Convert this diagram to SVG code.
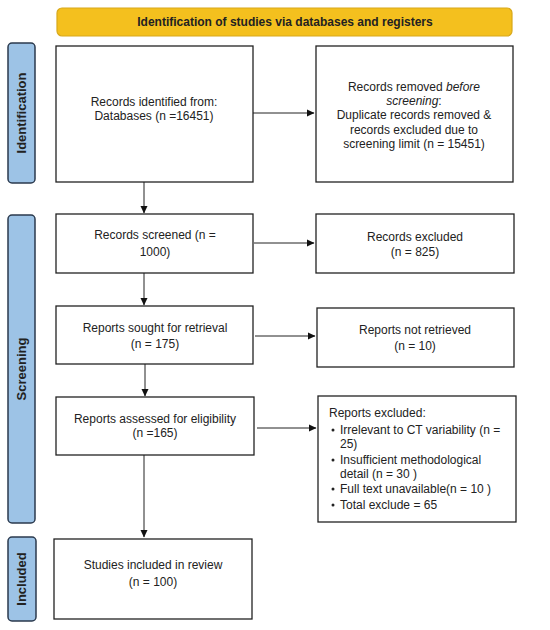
<svg xmlns="http://www.w3.org/2000/svg" width="550" height="630" viewBox="0 0 550 630">
<defs>
<marker id="ah" markerWidth="8" markerHeight="8" refX="7" refY="4" orient="auto" markerUnits="userSpaceOnUse">
<path d="M0,0.5 L7.5,4 L0,7.5 Z" fill="#111"/>
</marker>
<style>
.box{fill:#fff;stroke:#222;stroke-width:1.3}
.t{font-family:"Liberation Sans",Arial,sans-serif;font-size:12px;fill:#222;text-anchor:middle}
.tl{font-family:"Liberation Sans",Arial,sans-serif;font-size:12px;fill:#222}
.side{fill:#9dc3e6;stroke:#2b3a4e;stroke-width:1.5}
.st{font-family:"Liberation Sans",Arial,sans-serif;font-size:12px;font-weight:bold;fill:#222;text-anchor:middle}
.sl{font-family:"Liberation Sans",Arial,sans-serif;font-size:13px;font-weight:bold;fill:#222;text-anchor:middle}
.c{stroke:#222;stroke-width:1;fill:none;marker-end:url(#ah)}
</style>
</defs>
<rect width="550" height="630" fill="#fff"/>
<g id="header">
<rect x="57" y="8" width="455" height="28" rx="5" fill="#f4c01e" stroke="#d8a81a" stroke-width="1.2"/>
<text class="st" x="285" y="26">Identification of studies via databases and registers</text>
</g>
<g id="label-identification">
<rect class="side" x="8" y="43" width="27" height="140" rx="4"/>
<text class="sl" transform="translate(26,113) rotate(-90)">Identification</text>
</g>
<g id="label-screening">
<rect class="side" x="8" y="215" width="27" height="308" rx="4"/>
<text class="sl" transform="translate(26,369) rotate(-90)">Screening</text>
</g>
<g id="label-included">
<rect class="side" x="8" y="537" width="28" height="84" rx="4"/>
<text class="sl" transform="translate(26,579) rotate(-90)">Included</text>
</g>
<g id="n1">
<rect class="box" x="56" y="46" width="197" height="136"/>
<text class="t" x="154" y="106">Records identified from:</text>
<text class="t" x="154" y="120">Databases (n =16451)</text>
</g>
<g id="n2">
<rect class="box" x="316" y="46" width="197" height="136"/>
<text class="t" x="414" y="91">Records removed <tspan font-style="italic">before</tspan></text>
<text class="t" x="414" y="105"><tspan font-style="italic">screening</tspan>:</text>
<text class="t" x="414" y="119">Duplicate records removed &amp;</text>
<text class="t" x="414" y="134">records excluded due to</text>
<text class="t" x="414" y="148">screening limit  (n = 15451)</text>
</g>
<g id="n3">
<rect class="box" x="56" y="214" width="197" height="59"/>
<text class="t" x="155" y="239">Records screened (n =</text>
<text class="t" x="155" y="256">1000)</text>
</g>
<g id="n4">
<rect class="box" x="316" y="214" width="198" height="59"/>
<text class="t" x="415" y="241">Records excluded</text>
<text class="t" x="415" y="256">(n = 825)</text>
</g>
<g id="n5">
<rect class="box" x="56" y="306" width="197" height="58"/>
<text class="t" x="155" y="332">Reports sought for retrieval</text>
<text class="t" x="155" y="348">(n = 175)</text>
</g>
<g id="n6">
<rect class="box" x="317" y="308" width="197" height="59"/>
<text class="t" x="415" y="334">Reports not retrieved</text>
<text class="t" x="415" y="350">(n = 10)</text>
</g>
<g id="n7">
<rect class="box" x="56" y="397" width="198" height="58"/>
<text class="t" x="155" y="423">Reports assessed for eligibility</text>
<text class="t" x="155" y="437">(n =165)</text>
</g>
<g id="n8">
<rect class="box" x="318" y="396" width="198" height="126"/>
<text class="tl" x="329" y="417">Reports excluded:</text>
<g fill="#222">
<circle cx="333" cy="430" r="1.5"/>
<circle cx="333" cy="460" r="1.5"/>
<circle cx="333" cy="489" r="1.5"/>
<circle cx="333" cy="505" r="1.5"/>
</g>
<text class="tl" x="340" y="434">Irrelevant to CT variability (n =</text>
<text class="tl" x="340" y="448">25)</text>
<text class="tl" x="340" y="464">Insufficient methodological</text>
<text class="tl" x="340" y="478">detail (n = 30 )</text>
<text class="tl" x="340" y="493">Full text unavailable(n = 10 )</text>
<text class="tl" x="340" y="509">Total exclude = 65</text>
</g>
<g id="n9">
<rect class="box" x="54" y="539" width="198" height="80"/>
<text class="t" x="153" y="569">Studies included in review</text>
<text class="t" x="153" y="586">(n = 100)</text>
</g>
<g id="connectors">
<line class="c" x1="253" y1="113" x2="314" y2="113"/>
<line class="c" x1="144" y1="182" x2="144" y2="213"/>
<line class="c" x1="254" y1="243" x2="314" y2="243"/>
<line class="c" x1="144" y1="273" x2="144" y2="305"/>
<line class="c" x1="255" y1="336" x2="315" y2="336"/>
<line class="c" x1="145" y1="364" x2="145" y2="396"/>
<line class="c" x1="257" y1="428" x2="316" y2="428"/>
<line class="c" x1="144" y1="455" x2="144" y2="537"/>
</g>
</svg>
